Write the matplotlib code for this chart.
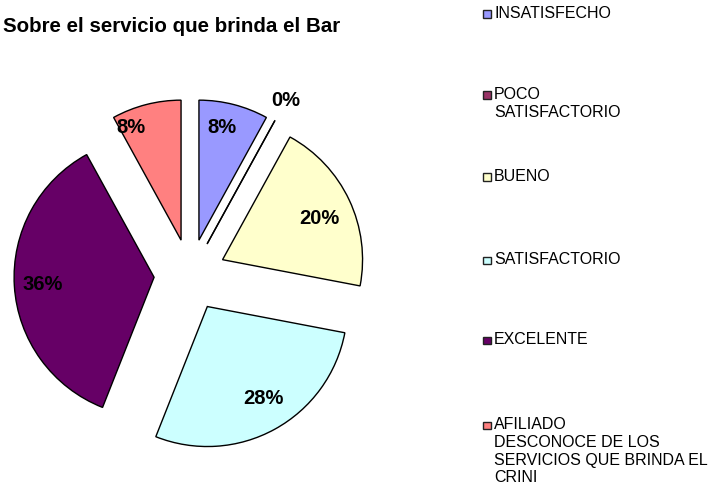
import matplotlib
matplotlib.use("Agg")
import matplotlib.pyplot as plt
from matplotlib.patches import Rectangle
import numpy as np

categories = ["INSATISFECHO", "POCO\nSATISFACTORIO", "BUENO", "SATISFACTORIO", "EXCELENTE",
              "AFILIADO\nDESCONOCE DE LOS\nSERVICIOS QUE BRINDA EL\nCRINI"]
values = [8, 0, 20, 28, 36, 8]
pct_labels = ["8%", "0%", "20%", "28%", "36%", "8%"]
colors = ["#9999FF", "#993366", "#FFFFCC", "#CCFFFF", "#660066", "#FF8080"]

# label placement (layout): radial distance and angular tweak in degrees
label_dist = [0.82, 1.42, 0.75, 0.77, 0.80, 0.88]
label_rot = [2.8, 0.0, -2.0, 2.5, 0.0, 9.5]

W, H = 711, 488
fig = plt.figure(figsize=(W / 100, H / 100), dpi=100)
plt.rcParams['font.family'] = ['Liberation Sans', 'DejaVu Sans']

cx, cy, r = 190, 275, 140
half = 1.5 * r
ax = fig.add_axes([(cx - half) / W, (H - cy - half) / H, 2 * half / W, 2 * half / H])

ex = 0.257
explode = [ex] * len(values)
wedges, _ = ax.pie(values, colors=colors, startangle=90, counterclock=False,
                   explode=explode, radius=1.0,
                   wedgeprops=dict(edgecolor="black", linewidth=1.0))
ax.set_xlim(-1.5, 1.5)
ax.set_ylim(-1.5, 1.5)
ax.axis("off")
for w in wedges:
    w.set_clip_on(False)

for w, lab, v, d, rot in zip(wedges, pct_labels, values, label_dist, label_rot):
    mid = np.deg2rad((w.theta1 + w.theta2) / 2 + rot)
    c = np.array(w.center) if v > 0 else np.array([0.0, 0.0])
    ax.text(c[0] + d * np.cos(mid), c[1] + d * np.sin(mid), lab, ha="center", va="center",
            fontsize=14.5, fontweight="bold", color="black")
    if v == 0:
        ax.plot([ex * np.cos(mid), (ex + 1) * np.cos(mid)],
                [ex * np.sin(mid), (ex + 1) * np.sin(mid)],
                color="black", lw=1.0, clip_on=False)

fig.text(3 / W, 1 - 26 / H, "Sobre el servicio que brinda el Bar", fontsize=14.8,
         fontweight="bold", ha="left", va="center")

# legend
leg_y = [14, 95, 177, 260, 340, 425]
for lab, col, y in zip(categories, colors, leg_y):
    fig.patches.append(Rectangle((483 / W, 1 - (y + 4) / H), 7.5 / W, 7.5 / H,
                                 transform=fig.transFigure, facecolor=col,
                                 edgecolor="#222222", linewidth=1.0))
    fig.text(494 / W, 1 - (y - 8) / H, lab, fontsize=11.5, ha="left", va="top",
             linespacing=1.23)

fig.savefig("out.png", dpi=100)
